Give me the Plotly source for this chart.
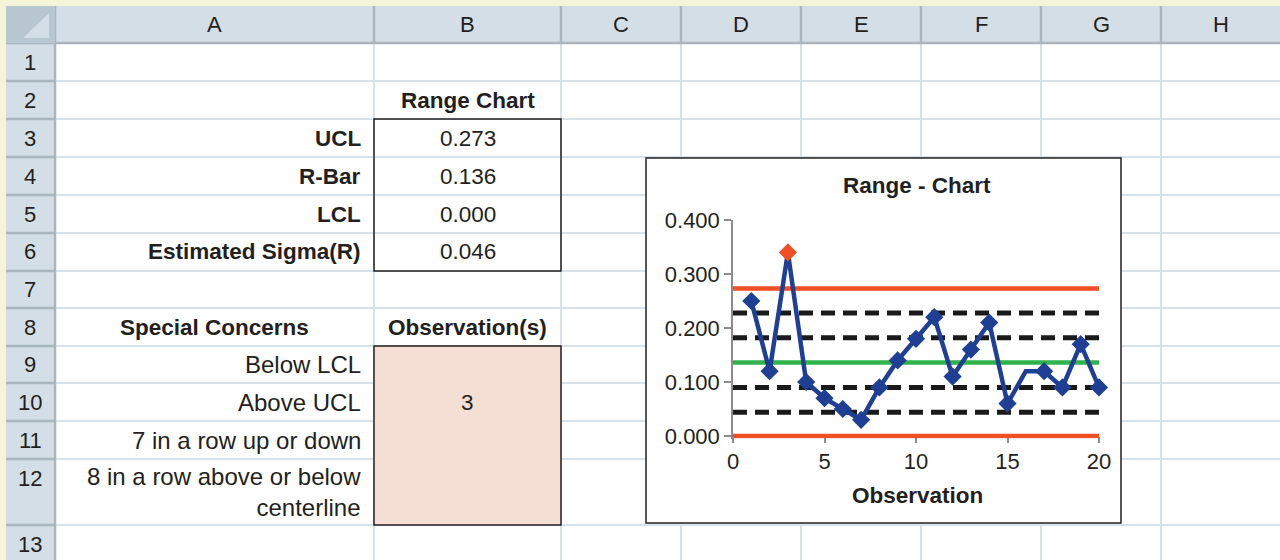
import plotly.graph_objects as go

# ---- worksheet content -------------------------------------------------
columns = ["A", "B", "C", "D", "E", "F", "G", "H"]
row_numbers = list(range(1, 14))

control_labels = ["UCL", "R-Bar", "LCL", "Estimated Sigma(R)"]
control_values = [0.273, 0.136, 0.000, 0.046]

concern_labels = ["Below LCL", "Above UCL", "7 in a row up or down",
                  "8 in a row above or below<br>centerline"]
concern_obs = ["", "3", "", ""]

# ---- range chart data --------------------------------------------------
observations = list(range(1, 21))
ranges = [0.25, 0.12, 0.34, 0.10, 0.07, 0.05, 0.03, 0.09, 0.14, 0.18,
          0.22, 0.11, 0.16, 0.21, 0.06, 0.12, 0.12, 0.09, 0.17, 0.09]
x_ticks = [0, 5, 10, 15, 20]
y_ticks = [0.0, 0.1, 0.2, 0.3, 0.4]

ucl, rbar, lcl, sigma = control_values

# ---- sheet geometry (pixels) ------------------------------------------
W, H = 1280, 560
col_edges = [55, 374, 561, 681, 801, 921, 1041, 1161, 1281]
row_edges = [43, 81, 119, 157, 195, 233, 271, 308, 346, 383, 421, 459, 525, 563]
top_edge, left_edge = 6, 6

FONT = "Liberation Sans, Arial, sans-serif"
TXT = "#231f20"
HDR_BG = "#d3dee6"
HDR_LINE = "#a9b6bf"
GRID = "#d7e1e9"
YELLOW = "#f4f5d8"


def px(x):
    return x / W


def py(y):
    return 1 - y / H


shapes = []


def rect(x0, y0, x1, y1, fill=None, line=None, lw=0):
    shapes.append(dict(type="rect", xref="paper", yref="paper", layer="below",
                       x0=px(x0), x1=px(x1), y0=py(y1), y1=py(y0),
                       fillcolor=fill or "rgba(0,0,0,0)",
                       line=dict(color=line or "rgba(0,0,0,0)", width=lw)))


def seg(x0, y0, x1, y1, color, lw):
    shapes.append(dict(type="line", xref="paper", yref="paper", layer="below",
                       x0=px(x0), x1=px(x1), y0=py(y0), y1=py(y1),
                       line=dict(color=color, width=lw)))


# cell area
rect(col_edges[0], row_edges[0], W, H, fill="white")
for x in col_edges[1:-1]:
    seg(x, row_edges[0], x, H, GRID, 2)
for y in row_edges[1:-1]:
    seg(col_edges[0], y, W, y, GRID, 2)

# header row and row-number column
rect(left_edge, top_edge, W, row_edges[0], fill=HDR_BG)
rect(left_edge, row_edges[0], col_edges[0], H, fill=HDR_BG)
for x in col_edges[:-1]:
    seg(x, top_edge, x, row_edges[0], HDR_LINE, 2.5)
seg(left_edge, row_edges[0], W, row_edges[0], HDR_LINE, 2.5)
seg(col_edges[0], row_edges[0], col_edges[0], H, HDR_LINE, 2.5)
for y in row_edges[1:-1]:
    seg(left_edge, y, col_edges[0], y, HDR_LINE, 2.5)

# select-all corner
rect(left_edge, top_edge, col_edges[0], row_edges[0], fill="#b8c6cf")
shapes.append(dict(type="path", xref="paper", yref="paper", layer="below",
                   path=f"M {px(49)} {py(13)} L {px(49)} {py(38)} L {px(23)} {py(38)} Z",
                   fillcolor=HDR_BG, line=dict(width=0)))

# bordered tables
b0, b1 = col_edges[1], col_edges[2]
rect(b0, row_edges[2], b1, row_edges[6], line="#231f20", lw=1.5)
rect(b0, row_edges[8], b1, row_edges[12], fill="#f5dfd5", line="#231f20", lw=1.5)

# chart frame
rect(646, 158, 1121, 523, fill="white", line="#231f20", lw=1.5)

# ---- text --------------------------------------------------------------
annotations = []


def text(s, x, y, size=22.5, bold=False, anchor="center"):
    annotations.append(dict(text=f"<b>{s}</b>" if bold else s,
                            x=px(x), y=py(y), xref="paper", yref="paper",
                            xanchor=anchor, yanchor="middle", showarrow=False,
                            align=anchor if anchor != "center" else "center",
                            font=dict(family=FONT, size=size, color=TXT)))


for i, c in enumerate(columns):
    text(c, (col_edges[i] + col_edges[i + 1]) / 2, 25, size=22)
for i, r in enumerate(row_numbers):
    y = (row_edges[i] + row_edges[i + 1]) / 2 if r != 12 else row_edges[i] + 19
    text(str(r), 30, y, size=22)

bc = (b0 + b1) / 2
lab_x = b0 - 11


def row_mid(r):
    return (row_edges[r - 1] + row_edges[r]) / 2


text("Range Chart", bc, row_mid(2), bold=True)
for k, (lab, val) in enumerate(zip(control_labels, control_values)):
    text(lab, lab_x, row_mid(3 + k), bold=True, anchor="right")
    text(f"{val:.3f}", bc, row_mid(3 + k))

text("Special Concerns", (col_edges[0] + col_edges[1]) / 2, row_mid(8), bold=True)
text("Observation(s)", bc, row_mid(8), bold=True)
for k, (lab, obs) in enumerate(zip(concern_labels, concern_obs)):
    text(lab, lab_x, row_mid(9 + k), size=24, anchor="right")
    if obs:
        text(obs, bc, row_mid(9 + k))

# chart title and axis title
text("Range - Chart", 917, 186, size=22.5, bold=True)
text("Observation", 917, 495, size=22.5, bold=True)

# ---- chart traces ------------------------------------------------------
RED = "#f04e23"
GREEN = "#2fb34a"
BLUE = "#1f3f94"
x_span = [x_ticks[0], x_ticks[-1]]

fig = go.Figure()
for val in (ucl, lcl):
    fig.add_trace(go.Scatter(x=x_span, y=[val, val], mode="lines",
                             line=dict(color=RED, width=4.5), hoverinfo="skip"))
for k in (-2, -1, 1, 2):
    v = rbar + k * sigma
    fig.add_trace(go.Scatter(x=x_span, y=[v, v], mode="lines",
                             line=dict(color="#1a1a1a", width=5, dash="14px,8px"),
                             hoverinfo="skip"))
fig.add_trace(go.Scatter(x=x_span, y=[rbar, rbar], mode="lines",
                         line=dict(color=GREEN, width=4.5), hoverinfo="skip"))

marker_colors = [RED if r > ucl else BLUE for r in ranges]
marker_sizes = [0 if i == 15 else 14 for i in range(len(ranges))]
fig.add_trace(go.Scatter(x=observations, y=ranges, mode="lines+markers",
                         line=dict(color=BLUE, width=4.5),
                         marker=dict(symbol="diamond", size=marker_sizes,
                                     color=marker_colors, opacity=1,
                                     line=dict(width=0)),
                         cliponaxis=False))

# plot-area placement in pixels
px_x0, px_x1 = 733, 1099
px_y_top, px_y_zero = 220, 436
unit = (px_y_zero - px_y_top) / (y_ticks[-1] - y_ticks[0])
y_low = -2.5 / unit
px_y_bot = px_y_zero + 2.5

fig.update_layout(
    width=W, height=H,
    margin=dict(l=0, r=0, t=0, b=0, pad=0, autoexpand=False),
    paper_bgcolor=YELLOW,
    plot_bgcolor="rgba(0,0,0,0)",
    showlegend=False,
    shapes=shapes,
    annotations=annotations,
    xaxis=dict(domain=[px(px_x0), px(px_x1)], range=x_span,
               anchor="free", position=py(px_y_zero),
               tickvals=x_ticks, ticks="outside", ticklen=6, tickwidth=1.5,
               tickcolor="#8c8c8c", showline=False, showgrid=False,
               zeroline=False, layer="below traces",
               tickfont=dict(family=FONT, size=22, color=TXT), fixedrange=True),
    yaxis=dict(domain=[py(px_y_bot), py(px_y_top)], range=[y_low, y_ticks[-1]],
               tickvals=y_ticks, tickformat=".3f", ticks="outside", ticklen=7,
               tickwidth=1.5, tickcolor="#8c8c8c", showline=True,
               linecolor="#8c8c8c", linewidth=1.5, showgrid=False,
               zeroline=False, layer="below traces",
               tickfont=dict(family=FONT, size=22, color=TXT),
               fixedrange=True),
)

fig.write_html(
    "out.html",
    config={"displayModeBar": False},
    post_script="document.body.style.margin='0';"
                "document.body.style.overflow='hidden';"
                f"document.body.style.background='{YELLOW}';",
)
